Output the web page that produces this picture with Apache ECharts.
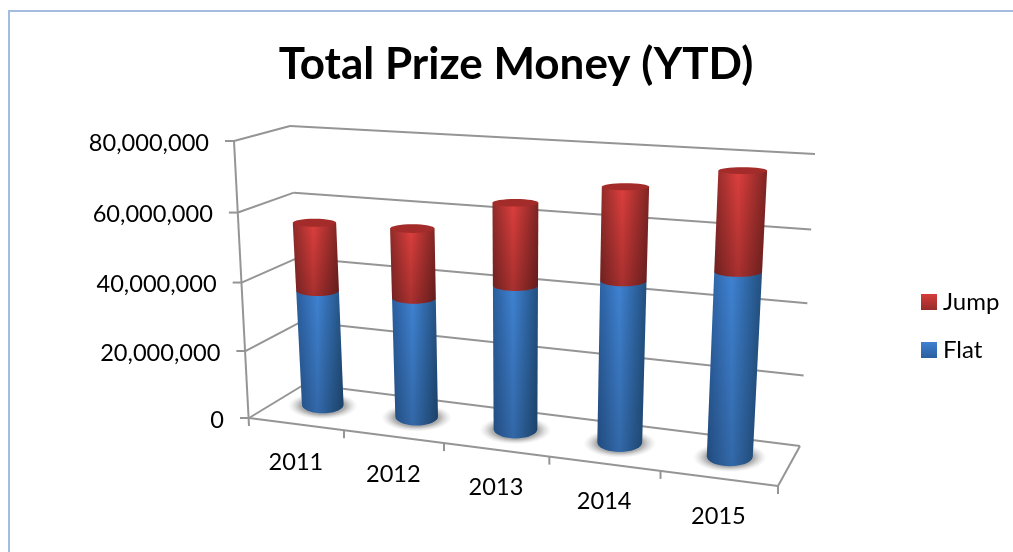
<!DOCTYPE html>
<html>
<head>
<meta charset="utf-8">
<style>
  html, body { margin: 0; padding: 0; background: #fff; }
  #main { width: 1013px; height: 552px; }
</style>
<script src="https://cdn.jsdelivr.net/npm/echarts@6/dist/echarts.min.js"></script>
</head>
<body>
<div id="main"></div>
<script>
// values
var years = ['2011', '2012', '2013', '2014', '2015'];
var flat = [34800000, 35300000, 41600000, 45500000, 50600000];
var jump = [20000000, 20000000, 23100000, 25500000, 26500000];
var yTicks = [0, 20000000, 40000000, 60000000, 80000000];

// corners of the 3d box on screen: f = front, b = back, l/r = left/right, 0/1 = floor/top
var box = {
    fl0: [249, 418], fr0: [778, 486], bl0: [305, 384], br0: [800, 446],
    fl1: [234, 141], fr1: [798, 174], bl1: [290, 126], br1: [815, 154]
};
var uPersp = 1.142;
var vPersp = 1.045;
var barDepth = 0.55;
var barShift = -0.005;

function mix(a, b, t) {
    return [a[0] + (b[0] - a[0]) * t, a[1] + (b[1] - a[1]) * t];
}

// u along categories, v along values, w depth (0 front, 1 back)
function project(u, v, w) {
    var su = u / (u + (1 - u) * uPersp);
    var sv = v / (v + (1 - v) * vPersp);
    var floor = mix(mix(box.fl0, box.fr0, su), mix(box.bl0, box.br0, su), w);
    var top = mix(mix(box.fl1, box.fr1, su), mix(box.bl1, box.br1, su), w);
    return mix(floor, top, sv);
}

// cartesian pixel -> box ratios
function toBox(params, pt) {
    var cs = params.coordSys;
    return [(pt[0] - cs.x) / cs.width, (cs.y + cs.height - pt[1]) / cs.height];
}

function ellipseAt(u, v) {
    u += barShift;
    var du = 0.046 - 0.006 * u;
    var c = project(u, v, barDepth);
    var l = project(u - du, v, barDepth);
    var r = project(u + du, v, barDepth);
    var f = project(u, v, barDepth - 0.25);
    var b = project(u, v, barDepth + 0.25);
    return { cx: c[0], cy: c[1], rx: (r[0] - l[0]) / 2, ry: Math.abs(f[1] - b[1]) / 2 * (1 - 0.35 * v) };
}

function cylinderPoints(low, high) {
    var pts = [[high.cx - high.rx, high.cy]];
    for (var a = 180; a >= 0; a -= 10) {
        var t = a * Math.PI / 180;
        pts.push([low.cx + low.rx * Math.cos(t), low.cy + low.ry * Math.sin(t)]);
    }
    pts.push([high.cx + high.rx, high.cy]);
    return pts;
}

function sideFill(edgeL, mid, edgeR) {
    return new echarts.graphic.LinearGradient(0, 0, 1, 0, [
        { offset: 0, color: edgeL },
        { offset: 0.45, color: mid },
        { offset: 1, color: edgeR }
    ]);
}

function downShade(alpha) {
    return new echarts.graphic.LinearGradient(0, 0, 0, 1, [
        { offset: 0, color: 'rgba(0,0,0,0)' },
        { offset: 1, color: 'rgba(0,0,0,' + alpha + ')' }
    ]);
}

var lineColor = '#959595';
var lineW = 2;
var labelFont = '23.6px Lato';

function seg(a, b) {
    return {
        type: 'line',
        shape: { x1: a[0], y1: a[1], x2: b[0], y2: b[1] },
        style: { stroke: lineColor, lineWidth: lineW }
    };
}

function renderGrid(params, api) {
    var v = toBox(params, api.coord([0, api.value(0)]))[1];
    var f = project(0, v, 0);
    var b = project(0, v, 1);
    var r = project(1, v, 1);
    var kids = [
        seg(f, b),
        seg(b, r),
        seg([f[0] - 9, f[1]], f),
        {
            type: 'text',
            style: {
                x: f[0] - 25, y: f[1] + 2,
                text: echarts.format.addCommas(api.value(0)),
                font: labelFont, fill: '#000', align: 'right', verticalAlign: 'middle'
            }
        }
    ];
    if (params.dataIndex === 0) {
        // floor edges and the vertical axis
        var top = project(0, 1, 0);
        var fr = project(1, 0, 0);
        kids.push(seg(f, fr), seg(fr, r), seg(top, [f[0], f[1] + 8]));
        kids.push(seg(fr, [fr[0], fr[1] + 8]));
    }
    return { type: 'group', children: kids };
}

function renderCategory(params, api) {
    var idx = api.value(0);
    var half = api.size([1, 0])[0] / 2;
    var pt = api.coord([idx, 0]);
    var u = toBox(params, pt)[0];
    var du = toBox(params, [pt[0] + half, pt[1]])[0] - u;
    var mid = project(u, 0, 0);
    var tick = project(u + du, 0, 0);
    return {
        type: 'group',
        children: [
            seg(tick, [tick[0], tick[1] + 8]),
            {
                type: 'text',
                style: {
                    x: mid[0], y: mid[1] + 38,
                    text: years[idx],
                    font: labelFont, fill: '#000', align: 'center', verticalAlign: 'middle'
                }
            }
        ]
    };
}

function renderCylinder(params, api) {
    var isJump = params.seriesName === 'Jump';
    var pLow = toBox(params, api.coord([api.value(0), api.value(1)]));
    var pHigh = toBox(params, api.coord([api.value(0), api.value(2)]));
    var low = ellipseAt(pLow[0], pLow[1]);
    var high = ellipseAt(pHigh[0], pHigh[1]);
    var pts = cylinderPoints(low, high);
    var kids = [];
    if (!isJump) {
        // soft shadow on the floor
        kids.push({
            type: 'circle',
            shape: { cx: 0, cy: 0, r: 10 },
            x: low.cx, y: low.cy + 1,
            scaleX: (low.rx + 14) / 10, scaleY: (low.ry + 5) / 10,
            style: {
                fill: new echarts.graphic.RadialGradient(0.5, 0.5, 0.5, [
                    { offset: 0, color: 'rgba(130,130,130,0.95)' },
                    { offset: 0.65, color: 'rgba(140,140,140,0.7)' },
                    { offset: 1, color: 'rgba(200,200,200,0)' }
                ])
            }
        });
    }
    kids.push({
        type: 'polygon',
        shape: { points: pts },
        style: {
            fill: isJump ? sideFill('#8f2b29', '#dc3f3d', '#7f2523') : sideFill('#2a5d9c', '#3f82d2', '#22507f')
        }
    });
    kids.push({
        type: 'polygon',
        shape: { points: pts },
        style: { fill: downShade(isJump ? 0.24 : 0.2) }
    });
    if (isJump) {
        kids.push({
            type: 'ellipse',
            shape: { cx: high.cx, cy: high.cy, rx: high.rx, ry: high.ry },
            style: { fill: '#a32c2a' }
        });
    }
    return { type: 'group', children: kids };
}

var chart = echarts.init(document.getElementById('main'));

var flatData = [];
var jumpData = [];
years.forEach(function (y, i) {
    flatData.push([i, 0, flat[i]]);
    jumpData.push([i, flat[i], flat[i] + jump[i]]);
});

chart.setOption({
    animation: false,
    backgroundColor: '#fff',
    title: {
        text: 'Total Prize Money (YTD)',
        left: 511,
        top: 38,
        textAlign: 'center',
        textStyle: { fontFamily: 'Lato', fontWeight: 'bold', fontSize: 44, color: '#000' }
    },
    legend: {
        data: ['Jump', 'Flat'],
        orient: 'vertical',
        left: 916,
        top: 285,
        itemWidth: 16,
        itemHeight: 16,
        itemGap: 24,
        icon: 'rect',
        textStyle: { fontFamily: 'Lato', fontSize: 24, color: '#000', padding: [0, 0, 0, 1] }
    },
    graphic: [{
        type: 'rect',
        silent: true,
        z: -1,
        shape: { x: 9, y: 11, width: 1100, height: 640 },
        style: { fill: 'none', stroke: '#a3bde0', lineWidth: 2 }
    }],
    grid: { left: 100, right: 100, top: 100, bottom: 100 },
    xAxis: { type: 'category', data: years, show: false },
    yAxis: { type: 'value', min: 0, max: 80000000, interval: 20000000, show: false },
    series: [
        {
            name: 'grid',
            type: 'custom',
            renderItem: renderGrid,
            data: yTicks.map(function (t) { return [t]; }),
            encode: { y: 0 },
            silent: true
        },
        {
            name: 'cats',
            type: 'custom',
            renderItem: renderCategory,
            data: years.map(function (y, i) { return [i]; }),
            encode: { x: 0 },
            silent: true
        },
        {
            name: 'Flat',
            type: 'custom',
            renderItem: renderCylinder,
            data: flatData,
            encode: { x: 0, y: [1, 2] },
            itemStyle: {
                color: new echarts.graphic.LinearGradient(0, 0, 0, 1, [
                    { offset: 0, color: '#3f80d0' },
                    { offset: 1, color: '#2a609f' }
                ])
            }
        },
        {
            name: 'Jump',
            type: 'custom',
            renderItem: renderCylinder,
            data: jumpData,
            encode: { x: 0, y: [1, 2] },
            itemStyle: {
                color: new echarts.graphic.LinearGradient(0, 0, 0, 1, [
                    { offset: 0, color: '#d63c3a' },
                    { offset: 1, color: '#952c2a' }
                ])
            }
        }
    ]
});
</script>
</body>
</html>
